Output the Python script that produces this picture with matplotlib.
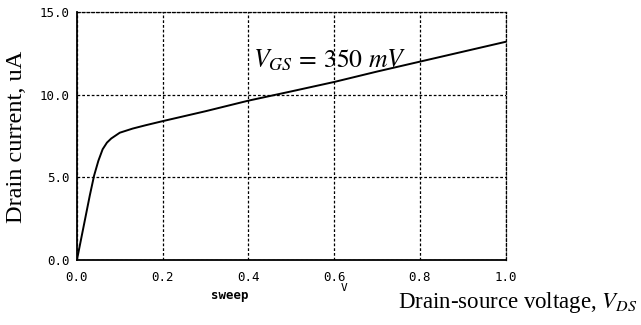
import numpy as np
import matplotlib
matplotlib.use("Agg")
import matplotlib.pyplot as plt

plt.rcParams['mathtext.fontset'] = 'stix'

# courbe Id(Vds)
vds = [0.0, 0.01, 0.02, 0.03, 0.04, 0.05, 0.06, 0.07, 0.08, 0.10, 0.13, 0.16,
       0.20, 0.30, 0.40, 0.50, 0.60, 0.70, 0.80, 0.90, 1.00]
id_ua = [0.0, 1.3, 2.6, 3.9, 5.1, 6.0, 6.7, 7.1, 7.35, 7.7, 7.95, 8.15,
         8.4, 9.0, 9.64, 10.2, 10.77, 11.4, 12.0, 12.6, 13.2]

xticks = [0.0, 0.2, 0.4, 0.6, 0.8, 1.0]
yticks = [0.0, 5.0, 10.0, 15.0]

fig = plt.figure(figsize=(6.41, 3.25), dpi=100)
ax = fig.add_axes([0.120, 0.2, 0.669, 0.763])

ax.plot(vds, id_ua, color='black', linewidth=1.4)
ax.set_xlim(0, 1.0)
ax.set_ylim(0, 15.0)

ax.set_xticks(xticks)
ax.set_yticks(yticks)
ax.set_xticklabels([f"{t:.1f}" for t in xticks], family='DejaVu Sans Mono', fontsize=9)
ax.set_yticklabels([f"{t:.1f}" for t in yticks], family='DejaVu Sans Mono', fontsize=9)
ax.tick_params(axis='x', length=0, pad=8)
ax.tick_params(axis='y', length=0, pad=5)

ax.grid(True, color='black', linestyle=(0, (2.2, 1.6)), linewidth=0.9)
for s in ['top', 'right']:
    ax.spines[s].set_linestyle((0, (2.2, 1.6)))
    ax.spines[s].set_linewidth(0.9)
for s in ['left', 'bottom']:
    ax.spines[s].set_linewidth(1.3)

ax.text(0.41, 12.1, r'$V_{GS}\,=\,350\ mV$', fontsize=18.5, ha='left', va='center')

fig.text(0.359, 0.09, 'sweep', family='DejaVu Sans Mono', fontsize=9,
         fontweight='bold', ha='center', va='center')
fig.text(0.537, 0.114, 'V', family='DejaVu Sans Mono', fontsize=8,
         ha='center', va='center')
fig.text(0.995, 0.068, r'Drain-source voltage, $V_{DS}$', family='Liberation Serif',
         fontsize=16.5, ha='right', va='center')
fig.text(0.025, 0.578, 'Drain current, uA', family='Liberation Serif', fontsize=17.5,
         rotation=90, ha='center', va='center')

fig.savefig('out.png', dpi=100)
